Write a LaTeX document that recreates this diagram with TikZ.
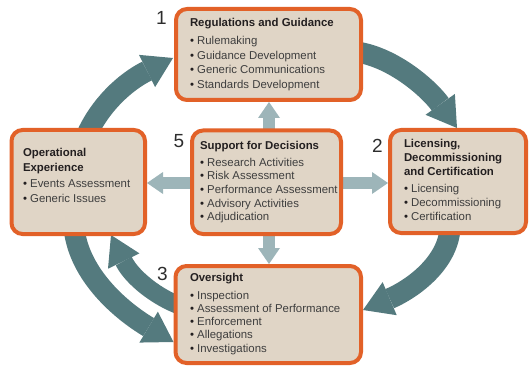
\documentclass[tikz,border=0pt]{standalone}
\usepackage{fontspec}
\setmainfont{Liberation Sans}
\usetikzlibrary{arrows.meta,backgrounds,calc}
\definecolor{boxorange}{RGB}{226,97,40}
\definecolor{boxfill}{RGB}{224,213,198}
\definecolor{darkarrow}{RGB}{84,122,126}
\definecolor{lightarrow}{RGB}{157,181,185}
\definecolor{titlecol}{RGB}{35,31,32}
\definecolor{itemcol}{RGB}{62,62,62}
\definecolor{numcol}{RGB}{45,45,45}
\newcommand{\ptitle}[1]{{\color{titlecol}\bfseries #1}}
\newcommand{\pitem}[1]{{\color{titlecol}\textbullet}\ {\color{itemcol}#1}}
\newcommand{\pblock}[2]{\parbox[t]{170pt}{\fontsize{11.4}{#1}\selectfont\leavevmode #2}}
\begin{document}
\begin{tikzpicture}[x=1pt,y=-1pt,
  panel/.style={draw=boxorange, line width=4pt, fill=boxfill, rounded corners=11pt, inner sep=0pt},
  txt/.style={inner sep=0pt, outer sep=0pt, anchor=base west},
  num/.style={inner sep=0pt, anchor=base, text=numcol, font=\fontsize{19}{19}\selectfont},
  bigarrow/.style={draw=darkarrow, line width=21pt, -{Triangle[length=29pt,width=36pt,line width=0pt]}},
  thinbig/.style={draw=darkarrow, line width=18pt, -{Triangle[length=29pt,width=35pt,line width=0pt]}},
  smallarrow/.style={draw=lightarrow, line width=12pt, -{Triangle[length=16pt,width=22pt,line width=0pt]}}]
\useasboundingbox (0,0) rectangle (529,366);
% boxes
\node[panel, minimum width=185pt, minimum height=91pt] (regs) at (268.5,54.5) {};
\node[panel, minimum width=133.5pt, minimum height=104pt] (ops) at (78.25,182) {};
\node[panel, minimum width=149pt, minimum height=103.5pt] (support) at (266.5,182.25) {};
\node[panel, minimum width=136pt, minimum height=103pt] (lic) at (458,181.5) {};
\node[panel, minimum width=185.5pt, minimum height=97pt] (over) at (268.25,314.5) {};
% texts
\node[txt] (regsText) at (190,27) {\pblock{14.4pt}{\ptitle{Regulations and Guidance}\\[3.6pt]
  \pitem{Rulemaking}\\ \pitem{Guidance Development}\\ \pitem{Generic Communications}\\ \pitem{Standards Development}}};
\node[txt] (opsText) at (23,156.7) {\pblock{14.6pt}{\ptitle{Operational}\\ \ptitle{Experience}\\[1.7pt]
  \pitem{Events Assessment}\\ \pitem{Generic Issues}}};
\node[txt] (supportText) at (200,149.3) {\pblock{13.7pt}{\ptitle{Support for Decisions}\\[3pt]
  \pitem{Research Activities}\\ \pitem{Risk Assessment}\\ \pitem{Performance Assessment}\\ \pitem{Advisory Activities}\\ \pitem{Adjudication}}};
\node[txt] (licText) at (404,147.7) {\pblock{13.8pt}{\ptitle{Licensing,}\\ \ptitle{Decommissioning}\\ \ptitle{and Certification}\\[3.8pt]
  \pitem{Licensing}\\ \pitem{Decommissioning}\\ \pitem{Certification}}};
\node[txt] (overText) at (190,281.7) {\pblock{13.3pt}{\ptitle{Oversight}\\[4pt]
  \pitem{Inspection}\\ \pitem{Assessment of Performance}\\ \pitem{Enforcement}\\ \pitem{Allegations}\\ \pitem{Investigations}}};
% numbers
\node[num] (n1) at (161.5,25) {1};
\node[num] (n5) at (179,147) {5};
\node[num] (n2) at (377.5,153) {2};
\node[num] (n3) at (162.5,280.5) {3};
% arrows
\begin{scope}[on background layer]
\draw[bigarrow] ($(ops.north)+(8,8)$) .. controls (100,105) and (125,82) .. ($(regs.west)+(-1,3.5)$);
\draw[bigarrow] ($(regs.east)+(-6,-2.5)$) .. controls (395,58) and (430,90) .. ($(lic.north)+(-1,0)$);
\draw[bigarrow] ($(lic.south)+(-8,-6)$) .. controls (447,265) and (410,290) .. ($(over.east)+(0,-4.5)$);
\draw[bigarrow] ($(ops.south)+(-4,-6)$) .. controls (80,275) and (120,310) .. ($(over.west)+(0,27.5)$);
\draw[thinbig] ($(over.west)+(7.5,-8.5)$) .. controls (158,298) and (132,278) .. ($(ops.south)+(32.75,-1)$);
\draw[smallarrow] ($(support.north)+(2.5,2)$) -- ($(regs.south)+(0.5,0)$);
\draw[smallarrow] ($(support.south)+(2.5,-2)$) -- ($(over.north)+(0.75,0)$);
\draw[smallarrow] ($(support.west)+(2,0.75)$) -- ($(ops.east)+(0,1)$);
\draw[smallarrow] ($(support.east)+(-2,0.75)$) -- ($(lic.west)+(0,1.5)$);
\end{scope}
\end{tikzpicture}
\end{document}
